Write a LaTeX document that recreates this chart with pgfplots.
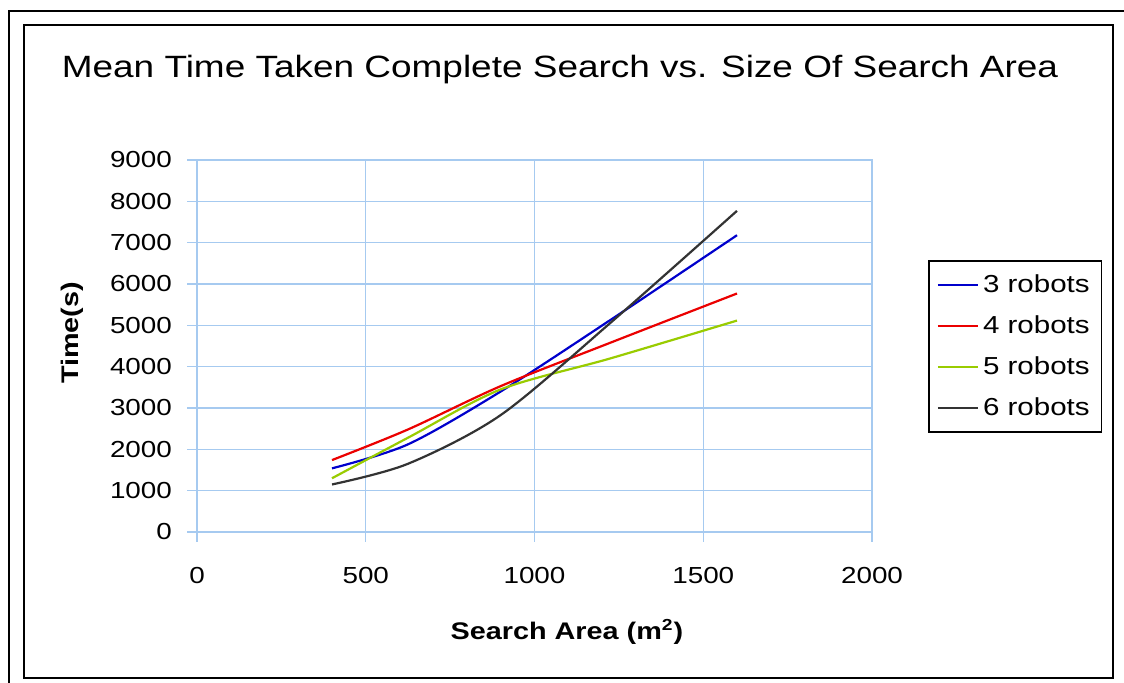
\documentclass[border=0pt]{standalone}
\usepackage{fontspec}
\setmainfont{Liberation Sans}[FakeStretch=1.2]
\usepackage{pgfplots}
\pgfplotsset{compat=1.18}
\definecolor{gridblue}{RGB}{166,202,240}
\definecolor{s3}{RGB}{0,0,204}
\definecolor{s4}{RGB}{235,0,0}
\definecolor{s5}{RGB}{153,204,0}
\definecolor{s6}{RGB}{51,51,51}

\pgfplotstableread{
x y
400 1540
625 2120
900 3400
1225 5130
1600 7180
}\robotsthree
\pgfplotstableread{
x y
400 1740
625 2480
900 3530
1225 4580
1600 5770
}\robotsfour
\pgfplotstableread{
x y
400 1300
625 2280
900 3450
1225 4200
1600 5115
}\robotsfive
\pgfplotstableread{
x y
400 1150
625 1650
900 2830
1225 5060
1600 7770
}\robotssix

\begin{document}
\begin{tikzpicture}
\path[use as bounding box] (0,0) rectangle (562pt,341.5pt);
\fill[white] (0,0) rectangle (562pt,341.5pt);
% double frame
\draw[line width=1pt] (4.5pt,0pt) -- (4.5pt,336pt) -- (562pt,336pt);
\draw[line width=1pt] (12pt,2.5pt) rectangle (556.5pt,329pt);
\node[anchor=base, inner sep=0pt, font=\fontsize{15.4}{18}\selectfont] at (280pt,302.5pt)
  {Mean Time Taken Complete Search vs. Size Of Search Area};
\begin{axis}[
  at={(98.5pt,75.5pt)}, anchor=south west,
  width=337.5pt, height=186pt, scale only axis,
  xmin=0, xmax=2000, ymin=0, ymax=9000,
  xtick={0,500,...,2000}, ytick={0,1000,...,9000},
  xtick pos=left, ytick pos=left,
  grid=major, major grid style={gridblue, line width=0.6pt},
  axis line style={gridblue, line width=0.6pt},
  tick style={gridblue, line width=0.6pt},
  tick align=outside, major tick length=5pt,
  /pgf/number format/assume math mode=true,
  /pgf/number format/1000 sep={},
  ticklabel style={font=\fontsize{11.6}{13}\selectfont},
  xticklabel style={yshift=-9pt},
  yticklabel style={xshift=-4pt},
  xlabel={\textbf{Search Area (m\textsuperscript{2})}},
  ylabel={\textbf{Time(s)}},
  label style={font=\fontsize{12}{14}\selectfont},
  xlabel style={at={(axis description cs:0.548,-0.269)}, anchor=center},
  ylabel style={at={(axis description cs:-0.185,0.535)}, anchor=center},
  legend style={at={(1.083,0.731)}, anchor=north west, draw=black, line width=0.8pt,
    font=\fontsize{12.3}{14}\selectfont, row sep=6pt, inner xsep=4pt, inner ysep=5pt,
    /tikz/every even column/.append style={column sep=2pt}},
  legend cell align=left,
  legend image code/.code={\draw[#1] (0pt,0pt) -- (20pt,0pt);},
  every axis plot/.append style={line width=1.1pt, smooth, tension=0.5},
]
\addplot[s3] table[x=x, y=y] {\robotsthree};
\addlegendentry{3 robots}
\addplot[s4] table[x=x, y=y] {\robotsfour};
\addlegendentry{4 robots}
\addplot[s5] table[x=x, y=y] {\robotsfive};
\addlegendentry{5 robots}
\addplot[s6] table[x=x, y=y] {\robotssix};
\addlegendentry{6 robots}
\end{axis}
\end{tikzpicture}
\end{document}
